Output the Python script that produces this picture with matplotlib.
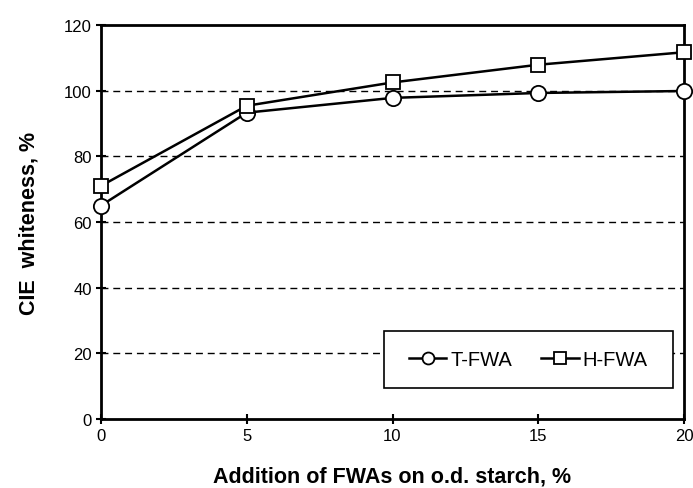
import matplotlib.pyplot as plt
from matplotlib.patches import Rectangle
import numpy as np

plt.rcParams['font.family'] = ['Liberation Sans', 'DejaVu Sans']

addition = [0, 5, 10, 15, 20]
t_fwa = [65, 93.3, 97.8, 99.3, 99.9]
h_fwa = [71, 95.4, 102.5, 107.9, 111.7]

fig = plt.figure(figsize=(6.93, 4.89), dpi=100)
ax = fig.add_axes([101/693, 1 - 420/489, 583/693, 394/489])

# dashed horizontal grid
for yv in [20, 40, 60, 80, 100]:
    ax.axhline(yv, color='black', lw=1, ls=(0, (5, 3.5)), zorder=1)

ax.plot(addition, t_fwa, color='black', lw=1.8, marker='o', ms=11,
        mfc='white', mec='black', mew=1.3, label='T-FWA', zorder=3, clip_on=False)
ax.plot(addition, h_fwa, color='black', lw=1.8, marker='s', ms=10.5,
        mfc='white', mec='black', mew=1.3, label='H-FWA', zorder=4, clip_on=False)

ax.set_xlim(0, 20)
ax.set_ylim(0, 120)
ax.set_xticks([0, 5, 10, 15, 20])
ax.set_yticks(np.arange(0, 121, 20))
ax.tick_params(direction='inout', length=7, width=1.5, labelsize=12, pad=3)
for s in ax.spines.values():
    s.set_linewidth(2)

ax.set_xlabel('Addition of FWAs on o.d. starch, %', fontsize=15.5, fontweight='bold', labelpad=16)
ax.set_ylabel('CIE  whiteness, %', fontsize=15.5, fontweight='bold', labelpad=18)

# legend box drawn separately so its padding matches the original
x0, x1 = 0.4854, 0.9811
y0, y1 = 0.0787, 0.2234
ax.add_patch(Rectangle((x0, y0), x1 - x0, y1 - y0, transform=ax.transAxes,
                       facecolor='white', edgecolor='black', lw=1.2, zorder=5))
leg = ax.legend(loc='center', bbox_to_anchor=((x0 + x1) / 2, (y0 + y1) / 2), ncol=2,
                fontsize=14.5, markerscale=0.78, handlelength=1.85, handletextpad=0.2,
                columnspacing=1.45, borderpad=0, frameon=False)
leg.set_zorder(6)

fig.savefig('out.png', dpi=100)
